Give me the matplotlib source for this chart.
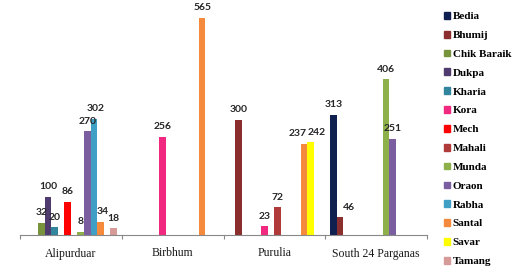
import matplotlib
matplotlib.use("Agg")
import matplotlib.pyplot as plt
import numpy as np

categories = ["Alipurduar", "Birbhum", "Purulia", "South 24 Parganas"]
series = ["Bedia", "Bhumij", "Chik Baraik", "Dukpa", "Kharia", "Kora", "Mech",
          "Mahali", "Munda", "Oraon", "Rabha", "Santal", "Savar", "Tamang"]
colors = ["#0f1f4f", "#8b2e2e", "#77933c", "#4f3b6e", "#31859c", "#f0287f", "#ff0000",
          "#b03a3a", "#8db04a", "#7a5ea0", "#3f9fc4", "#f58a3c", "#ffff00", "#d69a98"]
# values per series for each category (0 = absent)
values = {
    "Bedia":       [0, 0, 0, 313],
    "Bhumij":      [0, 0, 300, 46],
    "Chik Baraik": [32, 0, 0, 0],
    "Dukpa":       [100, 0, 0, 0],
    "Kharia":      [20, 0, 0, 0],
    "Kora":        [0, 256, 23, 0],
    "Mech":        [86, 0, 0, 0],
    "Mahali":      [0, 0, 72, 0],
    "Munda":       [8, 0, 0, 406],
    "Oraon":       [270, 0, 0, 251],
    "Rabha":       [302, 0, 0, 0],
    "Santal":      [34, 565, 237, 0],
    "Savar":       [0, 0, 242, 0],
    "Tamang":      [18, 0, 0, 0],
}

# label nudges in pixels (series, category index) -> dx
label_dx = {("Santal", 2): -6, ("Savar", 2): 6, ("Bhumij", 3): 9,
            ("Rabha", 0): 2, ("Santal", 0): 2}

W, H = 526, 267
fig = plt.figure(figsize=(W / 100, H / 100), dpi=100)
ax = fig.add_axes([20 / W, 1 - 235 / H, (427 - 20) / W, (235 - 4.6) / H])

n = len(series)
w = 1 / (n + 1.5)
x = np.arange(len(categories))
handles = []
for j, s in enumerate(series):
    vals = np.array(values[s], dtype=float)
    pos = x + (j - (n - 1) / 2) * w
    mask = vals > 0
    ax.bar(pos[mask], vals[mask], width=w, color=colors[j], linewidth=0)
    for ci in np.where(mask)[0]:
        dx = label_dx.get((s, ci), 0)
        ax.annotate(f"{int(vals[ci])}", (pos[ci], vals[ci]), xytext=(dx * 0.72, 4),
                    textcoords="offset points", ha="center", va="bottom",
                    fontsize=7.5, fontweight="bold", family="Lato", color="#262626")
    handles.append(plt.Rectangle((0, 0), 1, 1, color=colors[j]))

ax.set_xlim(-0.5, len(categories) - 0.5)
ax.set_ylim(0, 600)
for sp in ["top", "right", "left"]:
    ax.spines[sp].set_visible(False)
ax.spines["bottom"].set_color("#888888")
ax.spines["bottom"].set_linewidth(0.8)
ax.set_yticks([])
ax.set_xticks(np.arange(-0.5, len(categories), 1.0))
ax.set_xticklabels([])
ax.tick_params(axis="x", length=3, color="#888888", width=0.8)
ax.set_xticks(x, minor=True)
ax.set_xticklabels(categories, minor=True, fontsize=8.5,
                   family="Liberation Serif", color="#1a1a1a")
ax.tick_params(axis="x", which="minor", length=0, pad=9)

fig.legend(handles, series, loc="upper left", bbox_to_anchor=(444 / W, 1 - 12 / H),
           frameon=False, prop={"family": "Liberation Serif", "weight": "bold", "size": 8},
           handlelength=0.55, handleheight=0.55, handletextpad=0.25,
           labelspacing=0.86, borderaxespad=0, borderpad=0)

fig.savefig("out.png", dpi=100)
